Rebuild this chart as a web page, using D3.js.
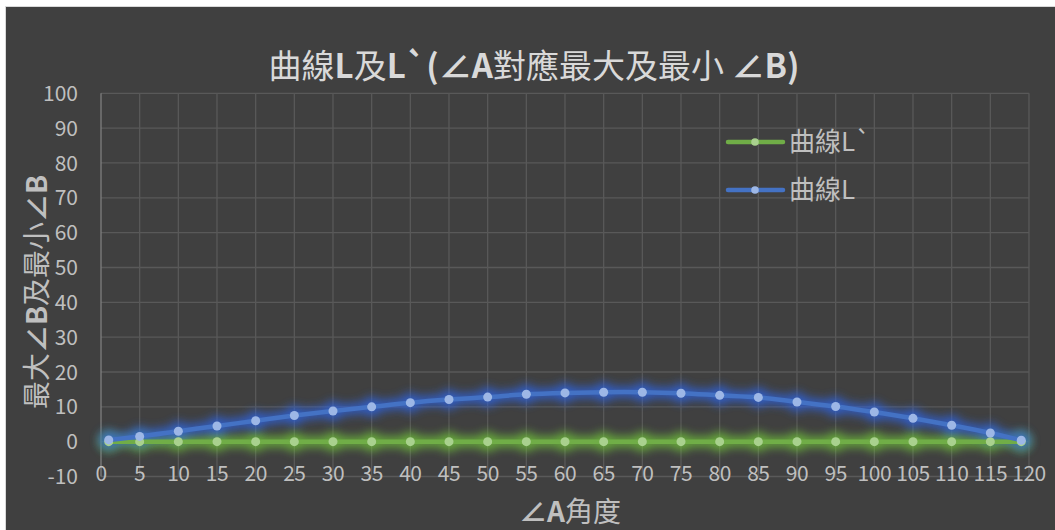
<!DOCTYPE html>
<html><head><meta charset="utf-8">
<script src="https://cdn.jsdelivr.net/npm/d3@7"></script>
<style>
html,body{margin:0;padding:0;background:#fff;}
svg{display:block;}
text{font-family:"Noto Sans CJK TC","Noto Sans",sans-serif;}
</style></head>
<body>
<svg id="c" width="1055" height="530"></svg>
<script>
const angleA = [1,5,10,15,20,25,30,35,40,45,50,55,60,65,70,75,80,85,90,95,100,105,110,115,119];
const curveL = [0.5,1.5,3.0,4.5,6.0,7.5,8.8,10.0,11.2,12.1,12.8,13.6,14.0,14.2,14.2,13.9,13.3,12.7,11.4,10.1,8.5,6.7,4.7,2.5,0.4];
const curveLp = [0,0,0,0,0,0,0,0,0,0,0,0,0,0,0,0,0,0,0,0,0,0,0,0,0];
const xTicks = d3.range(0,121,5);
const yTicks = d3.range(-10,101,10);
const seriesNames = ["曲線L`","曲線L"];
// [text, bold]
const titleParts = [["曲線",0],["L",1],["及",0],["L`(∠A",1],["對應最大及最小",0],[" ∠B)",1]];
const xTitleParts = [["∠A",1],["角度",0]];
const yTitleParts = [["最大",0],["∠B",1],["及最小",0],["∠B",1]];

const svg = d3.select("#c");
const W=1055,H=530;
svg.append("rect").attr("x",0).attr("y",0).attr("width",W).attr("height",H).attr("fill","#ffffff");
svg.append("rect").attr("x",5).attr("y",6).attr("width",W-5).attr("height",H-6).attr("fill","#d9d9d9");
svg.append("rect").attr("x",6).attr("y",7).attr("width",W-6).attr("height",H-7).attr("fill","#404040");

const defs = svg.append("defs");
const f = defs.append("filter").attr("id","glow").attr("x","-20%").attr("y","-100%").attr("width","140%").attr("height","300%");
f.append("feGaussianBlur").attr("stdDeviation",5);

const x = d3.scaleLinear().domain([0,120]).range([101,1029]);
const y = d3.scaleLinear().domain([-10,100]).range([476.5,93.3]);

const g = svg.append("g");
g.selectAll("line.h").data(yTicks).enter().append("line")
  .attr("x1",x(0)).attr("x2",x(120)).attr("y1",d=>y(d)).attr("y2",d=>y(d))
  .attr("stroke","#595959").attr("stroke-width",1.3);
g.selectAll("line.v").data(xTicks.filter(d=>d>0)).enter().append("line")
  .attr("x1",d=>x(d)).attr("x2",d=>x(d)).attr("y1",y(100)).attr("y2",y(-10))
  .attr("stroke","#595959").attr("stroke-width",1.3);
g.append("line").attr("x1",x(0)).attr("x2",x(0)).attr("y1",y(100)).attr("y2",y(-10))
  .attr("stroke","#7f7f7f").attr("stroke-width",1.3);

svg.append("g").selectAll("text").data(yTicks).enter().append("text")
  .attr("x",78).attr("y",d=>y(d)).attr("dy","0.36em").attr("text-anchor","end")
  .attr("font-size",21).attr("fill","#bfbfbf").text(d=>d);
svg.append("g").selectAll("text").data(xTicks).enter().append("text")
  .attr("x",d=>x(d)).attr("y",481).attr("text-anchor","middle")
  .attr("font-size",21).attr("letter-spacing",-0.5).attr("fill","#bfbfbf").text(d=>d);

const line = d3.line().x(d=>x(d[0])).y(d=>y(d[1])).curve(d3.curveCatmullRom.alpha(0.5));
const series = [
  {name:seriesNames[0], vals:curveLp, color:"#70ad47", mk:"#a9d18e", glow:"#6fbf3a"},
  {name:seriesNames[1], vals:curveL, color:"#4472c4", mk:"#9db7e6", glow:"#2f64e0"}
];
series.forEach(s=>{
  const pts = angleA.map((a,i)=>[a,s.vals[i]]);
  const glow = svg.append("g").attr("filter","url(#glow)").attr("opacity",0.8);
  glow.append("path").attr("d",line(pts)).attr("fill","none").attr("stroke",s.glow).attr("stroke-width",11);
  glow.selectAll("circle").data(pts).enter().append("circle")
    .attr("cx",d=>x(d[0])).attr("cy",d=>y(d[1])).attr("r",10).attr("fill",s.glow);
});
series.forEach(s=>{
  const pts = angleA.map((a,i)=>[a,s.vals[i]]);
  const gg = svg.append("g");
  gg.append("path").attr("d",line(pts)).attr("fill","none").attr("stroke",s.color).attr("stroke-width",4.5).attr("stroke-linecap","round");
  gg.selectAll("circle").data(pts).enter().append("circle")
    .attr("cx",d=>x(d[0])).attr("cy",d=>y(d[1])).attr("r",4.5).attr("fill",s.mk);
});

const lg = svg.append("g");
series.forEach((s,i)=>{
  const ly = 142 + i*48;
  lg.append("line").attr("x1",728).attr("x2",783).attr("y1",ly).attr("y2",ly)
    .attr("stroke",s.color).attr("stroke-width",4.5).attr("stroke-linecap","round");
  lg.append("circle").attr("cx",755).attr("cy",ly).attr("r",3.8).attr("fill",s.mk);
  lg.append("text").attr("x",789).attr("y",ly).attr("dy","0.36em").attr("font-size",26)
    .attr("fill","#bfbfbf").text(s.name);
});

function parts(sel, arr){
  arr.forEach(p=>sel.append("tspan").attr("font-weight",p[1]?700:400).text(p[0]));
}
parts(svg.append("text").attr("x",534).attr("y",78).attr("text-anchor","middle")
  .attr("font-size",33).attr("fill","#d9d9d9").attr("xml:space","preserve"), titleParts);
parts(svg.append("text").attr("x",570).attr("y",522).attr("text-anchor","middle")
  .attr("font-size",28).attr("fill","#bfbfbf"), xTitleParts);
parts(svg.append("text").attr("transform","translate(47,292) rotate(-90)").attr("text-anchor","middle")
  .attr("font-size",28).attr("fill","#bfbfbf"), yTitleParts);
</script>
</body></html>
